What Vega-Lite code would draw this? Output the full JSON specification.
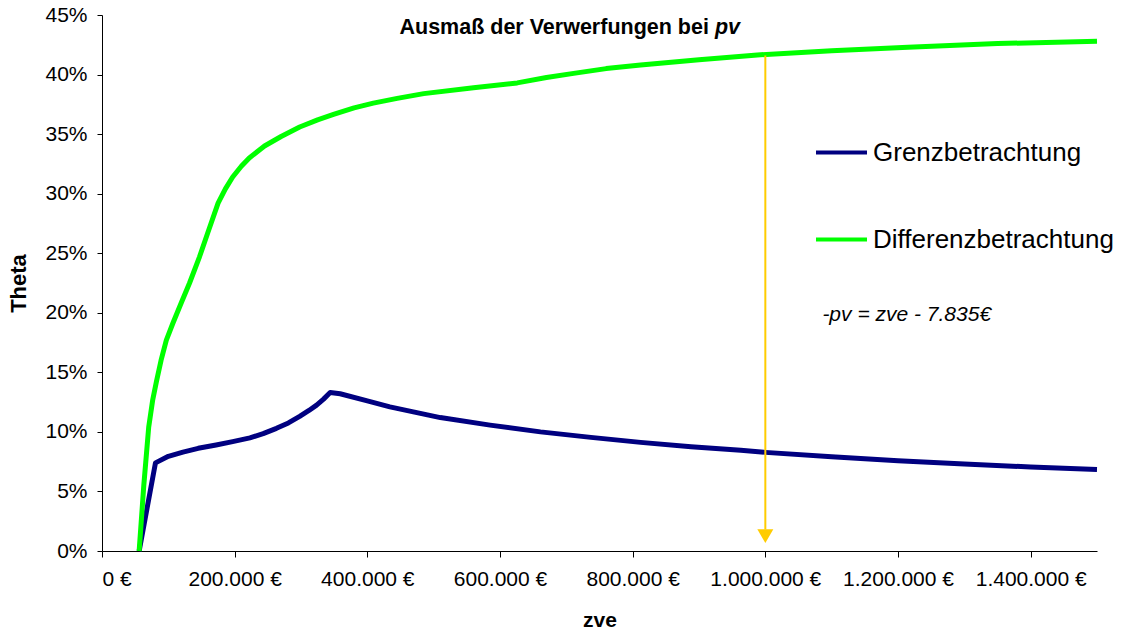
{
  "$schema": "https://vega.github.io/schema/vega-lite/v6.json",
  "width": 995,
  "height": 536,
  "autosize": "none",
  "padding": {"left": 102, "top": 15, "right": 27, "bottom": 78},
  "background": "white",
  "config": {
    "font": "Liberation Sans",
    "view": {"stroke": null},
    "axis": {"grid": false, "domainColor": "#000000", "tickColor": "#000000", "labelColor": "#000000", "titleColor": "#000000", "labelFont": "Liberation Sans", "titleFont": "Liberation Sans"}
  },
  "datasets": {
    "lines": [
      {"zve": 56000, "theta": 0.0, "series": "Grenzbetrachtung"},
      {"zve": 80600, "theta": 0.074, "series": "Grenzbetrachtung"},
      {"zve": 100000, "theta": 0.0795, "series": "Grenzbetrachtung"},
      {"zve": 122000, "theta": 0.083, "series": "Grenzbetrachtung"},
      {"zve": 145000, "theta": 0.0862, "series": "Grenzbetrachtung"},
      {"zve": 172000, "theta": 0.089, "series": "Grenzbetrachtung"},
      {"zve": 197000, "theta": 0.0918, "series": "Grenzbetrachtung"},
      {"zve": 223000, "theta": 0.095, "series": "Grenzbetrachtung"},
      {"zve": 243000, "theta": 0.0985, "series": "Grenzbetrachtung"},
      {"zve": 263000, "theta": 0.103, "series": "Grenzbetrachtung"},
      {"zve": 281000, "theta": 0.1075, "series": "Grenzbetrachtung"},
      {"zve": 298000, "theta": 0.113, "series": "Grenzbetrachtung"},
      {"zve": 312000, "theta": 0.118, "series": "Grenzbetrachtung"},
      {"zve": 323500, "theta": 0.1225, "series": "Grenzbetrachtung"},
      {"zve": 334000, "theta": 0.1275, "series": "Grenzbetrachtung"},
      {"zve": 344000, "theta": 0.133, "series": "Grenzbetrachtung"},
      {"zve": 359000, "theta": 0.132, "series": "Grenzbetrachtung"},
      {"zve": 400000, "theta": 0.126, "series": "Grenzbetrachtung"},
      {"zve": 434000, "theta": 0.121, "series": "Grenzbetrachtung"},
      {"zve": 510000, "theta": 0.112, "series": "Grenzbetrachtung"},
      {"zve": 585000, "theta": 0.1057, "series": "Grenzbetrachtung"},
      {"zve": 661000, "theta": 0.1, "series": "Grenzbetrachtung"},
      {"zve": 737000, "theta": 0.0954, "series": "Grenzbetrachtung"},
      {"zve": 812000, "theta": 0.0912, "series": "Grenzbetrachtung"},
      {"zve": 888000, "theta": 0.0875, "series": "Grenzbetrachtung"},
      {"zve": 963000, "theta": 0.0845, "series": "Grenzbetrachtung"},
      {"zve": 1000000, "theta": 0.0828, "series": "Grenzbetrachtung"},
      {"zve": 1100000, "theta": 0.0791, "series": "Grenzbetrachtung"},
      {"zve": 1200000, "theta": 0.0758, "series": "Grenzbetrachtung"},
      {"zve": 1300000, "theta": 0.073, "series": "Grenzbetrachtung"},
      {"zve": 1400000, "theta": 0.0705, "series": "Grenzbetrachtung"},
      {"zve": 1500000, "theta": 0.0685, "series": "Grenzbetrachtung"},
      {"zve": 56000, "theta": 0.0, "series": "Differenzbetrachtung"},
      {"zve": 63000, "theta": 0.055, "series": "Differenzbetrachtung"},
      {"zve": 70400, "theta": 0.104, "series": "Differenzbetrachtung"},
      {"zve": 76500, "theta": 0.127, "series": "Differenzbetrachtung"},
      {"zve": 82000, "theta": 0.142, "series": "Differenzbetrachtung"},
      {"zve": 89000, "theta": 0.16, "series": "Differenzbetrachtung"},
      {"zve": 97000, "theta": 0.177, "series": "Differenzbetrachtung"},
      {"zve": 106700, "theta": 0.191, "series": "Differenzbetrachtung"},
      {"zve": 120000, "theta": 0.209, "series": "Differenzbetrachtung"},
      {"zve": 132000, "theta": 0.225, "series": "Differenzbetrachtung"},
      {"zve": 147000, "theta": 0.247, "series": "Differenzbetrachtung"},
      {"zve": 160000, "theta": 0.268, "series": "Differenzbetrachtung"},
      {"zve": 175000, "theta": 0.292, "series": "Differenzbetrachtung"},
      {"zve": 186000, "theta": 0.304, "series": "Differenzbetrachtung"},
      {"zve": 197000, "theta": 0.314, "series": "Differenzbetrachtung"},
      {"zve": 210000, "theta": 0.323, "series": "Differenzbetrachtung"},
      {"zve": 222000, "theta": 0.33, "series": "Differenzbetrachtung"},
      {"zve": 245000, "theta": 0.34, "series": "Differenzbetrachtung"},
      {"zve": 270000, "theta": 0.348, "series": "Differenzbetrachtung"},
      {"zve": 298000, "theta": 0.356, "series": "Differenzbetrachtung"},
      {"zve": 325000, "theta": 0.362, "series": "Differenzbetrachtung"},
      {"zve": 349000, "theta": 0.3665, "series": "Differenzbetrachtung"},
      {"zve": 380000, "theta": 0.372, "series": "Differenzbetrachtung"},
      {"zve": 409000, "theta": 0.376, "series": "Differenzbetrachtung"},
      {"zve": 445000, "theta": 0.38, "series": "Differenzbetrachtung"},
      {"zve": 485000, "theta": 0.384, "series": "Differenzbetrachtung"},
      {"zve": 560000, "theta": 0.389, "series": "Differenzbetrachtung"},
      {"zve": 626000, "theta": 0.393, "series": "Differenzbetrachtung"},
      {"zve": 670000, "theta": 0.3975, "series": "Differenzbetrachtung"},
      {"zve": 711000, "theta": 0.401, "series": "Differenzbetrachtung"},
      {"zve": 760000, "theta": 0.405, "series": "Differenzbetrachtung"},
      {"zve": 812000, "theta": 0.408, "series": "Differenzbetrachtung"},
      {"zve": 900000, "theta": 0.4125, "series": "Differenzbetrachtung"},
      {"zve": 988000, "theta": 0.4165, "series": "Differenzbetrachtung"},
      {"zve": 1100000, "theta": 0.42, "series": "Differenzbetrachtung"},
      {"zve": 1215000, "theta": 0.423, "series": "Differenzbetrachtung"},
      {"zve": 1350000, "theta": 0.426, "series": "Differenzbetrachtung"},
      {"zve": 1500000, "theta": 0.428, "series": "Differenzbetrachtung"}
    ],
    "arrow": [
      {"zve": 1000000, "top": 0.416, "bottom": 0.018, "head": 0.0125}
    ],
    "notes": [
      {"zve": 1086000, "theta": 0.198, "label": "-pv = zve - 7.835€"}
    ],
    "titleparts": [
      {"zve": 918000, "theta": 0.439, "main": "Ausmaß der Verwerfungen bei", "ital": "pv"}
    ]
  },
  "layer": [
    {
      "data": {"name": "lines"},
      "mark": {"type": "line", "strokeWidth": 5, "interpolate": "linear", "strokeJoin": "round", "strokeCap": "butt"},
      "encoding": {
        "x": {
          "field": "zve", "type": "quantitative",
          "scale": {"domain": [0, 1500000], "nice": false, "zero": false},
          "axis": {
            "values": [0, 200000, 400000, 600000, 800000, 1000000, 1200000, 1400000],
            "labelExpr": "replace(format(datum.value, ',d'), regexp(',', 'g'), '.') + ' €'",
            "labelFontSize": 21, "labelPadding": 11, "tickSize": 6,
            "title": "zve", "titleFontSize": 21, "titleFontWeight": "bold", "titlePadding": 20
          }
        },
        "y": {
          "field": "theta", "type": "quantitative",
          "scale": {"domain": [0, 0.45], "nice": false},
          "axis": {
            "values": [0, 0.05, 0.1, 0.15, 0.2, 0.25, 0.3, 0.35, 0.4, 0.45],
            "format": ".0%", "labelFontSize": 21, "labelPadding": 10, "tickSize": 5,
            "title": "Theta", "titleFontSize": 22, "titleFontWeight": "bold", "titlePadding": 14
          }
        },
        "color": {
          "field": "series", "type": "nominal",
          "scale": {"domain": ["Grenzbetrachtung", "Differenzbetrachtung"], "range": ["#000080", "#00FF00"]},
          "legend": {
            "title": null, "orient": "none", "legendX": 712, "legendY": 110,
            "symbolType": "stroke", "symbolSize": 2601, "symbolStrokeWidth": 4,
            "labelFontSize": 26, "labelColor": "#000000", "labelOffset": 4, "labelLimit": 400,
            "rowPadding": 46, "padding": 0
          }
        },
        "order": {"field": "zve", "type": "quantitative"}
      }
    },
    {
      "data": {"name": "arrow"},
      "mark": {"type": "rule", "color": "#FFCC00", "strokeWidth": 2},
      "encoding": {
        "x": {"field": "zve", "type": "quantitative"},
        "y": {"field": "top", "type": "quantitative"},
        "y2": {"field": "bottom"}
      }
    },
    {
      "data": {"name": "arrow"},
      "mark": {"type": "point", "shape": "triangle-down", "filled": true, "color": "#FFCC00", "size": 256, "opacity": 1},
      "encoding": {
        "x": {"field": "zve", "type": "quantitative"},
        "y": {"field": "head", "type": "quantitative"}
      }
    },
    {
      "data": {"name": "notes"},
      "mark": {"type": "text", "align": "left", "baseline": "middle", "fontStyle": "italic", "fontSize": 21, "color": "#000000"},
      "encoding": {
        "x": {"field": "zve", "type": "quantitative"},
        "y": {"field": "theta", "type": "quantitative"},
        "text": {"field": "label"}
      }
    },
    {
      "data": {"name": "titleparts"},
      "mark": {"type": "text", "align": "right", "baseline": "middle", "fontWeight": "bold", "fontSize": 21.5, "color": "#000000", "dx": -2},
      "encoding": {
        "x": {"field": "zve", "type": "quantitative"},
        "y": {"field": "theta", "type": "quantitative"},
        "text": {"field": "main"}
      }
    },
    {
      "data": {"name": "titleparts"},
      "mark": {"type": "text", "align": "left", "baseline": "middle", "fontWeight": "bold", "fontStyle": "italic", "fontSize": 21.5, "color": "#000000", "dx": 4},
      "encoding": {
        "x": {"field": "zve", "type": "quantitative"},
        "y": {"field": "theta", "type": "quantitative"},
        "text": {"field": "ital"}
      }
    }
  ]
}
